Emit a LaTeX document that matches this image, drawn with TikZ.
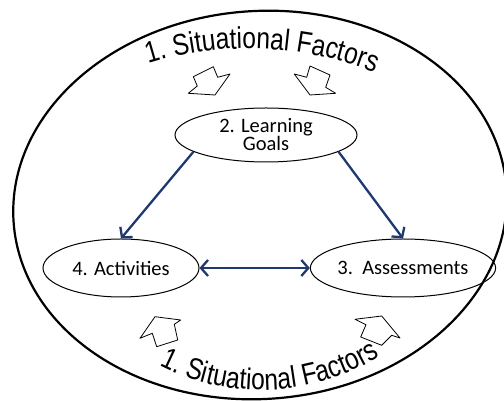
\documentclass[tikz,border=0pt]{standalone}
\usepackage{fontspec}
\setmainfont{Carlito}
\newfontfamily\arialfont[FakeStretch=0.82]{Liberation Sans}
\usetikzlibrary{arrows.meta,shapes.geometric,decorations.text}
\definecolor{navy}{RGB}{31,56,112}
\tikzset{blockarrow/.style={draw,fill=white,line width=0.8pt,line join=round}}

\begin{document}
\begin{tikzpicture}[x=1pt,y=1pt]
\useasboundingbox (0,0) rectangle (504,401);
\draw[line width=2.2pt,rotate around={4:(260,196)}] (260,196) ellipse [x radius=247pt, y radius=194pt];

% curved titles
\path[decorate,decoration={text along path,text align=center,
    text={|\arialfont\fontsize{30}{34}\selectfont|1. Situational Factors}}]
    (249,11.5) ++(108:341pt) arc[start angle=108,end angle=67.6,radius=341pt];
\path[decorate,decoration={text along path,text align=center,
    text={|\arialfont\fontsize{30}{34}\selectfont|1. Situational Factors}}]
    (261,237) ++(240:226pt) arc[start angle=240,end angle=305,radius=226pt];

% white block arrows
\draw[blockarrow] (213.3,334.3) -- (217.7,323.7) -- (230,327) -- (215,306) -- (188.3,307.7) -- (197.3,315) -- (193.3,324.3) -- cycle;
\draw[blockarrow] (310,335) -- (330,326) -- (325.7,313.7) -- (335.7,307.7) -- (310,306) -- (294.3,327) -- (306.7,323.7) -- cycle;
\draw[blockarrow] (140,62.7) -- (155,84.3) -- (180.7,81) -- (174.3,76.7) -- (177.7,61) -- (156.7,54.3) -- (152.3,67.7) -- cycle;
\draw[blockarrow] (355,81.7) -- (381.7,85) -- (400,63) -- (391.7,65.7) -- (381.7,55.7) -- (360.7,64) -- (366,76.3) -- cycle;

\begin{scope}[every node/.style={ellipse,draw,line width=1pt,inner xsep=0pt,inner ysep=-6pt,
              align=center,font=\fontsize{20.5}{18}\selectfont}]
    \node[minimum width=182pt,minimum height=54pt] (G) at (266,266) {2. Learning\\Goals};
    \node[minimum width=156pt,minimum height=58pt] (A) at (121,133) {4. Activities};
    \node[minimum width=176pt,minimum height=58pt] (S) at (403,133) {3.\ \ Assessments};
\end{scope}

\begin{scope}[>={Straight Barb[length=7pt,width=16pt]},
              every edge/.style={draw=navy,line width=2.3pt}]
    \path [->] (G.193) edge (A.north);
    \path [->] (G.-13) edge (S.north);
    \path [<->] (A.east) edge (S.west);
\end{scope}
\end{tikzpicture}
\end{document}
